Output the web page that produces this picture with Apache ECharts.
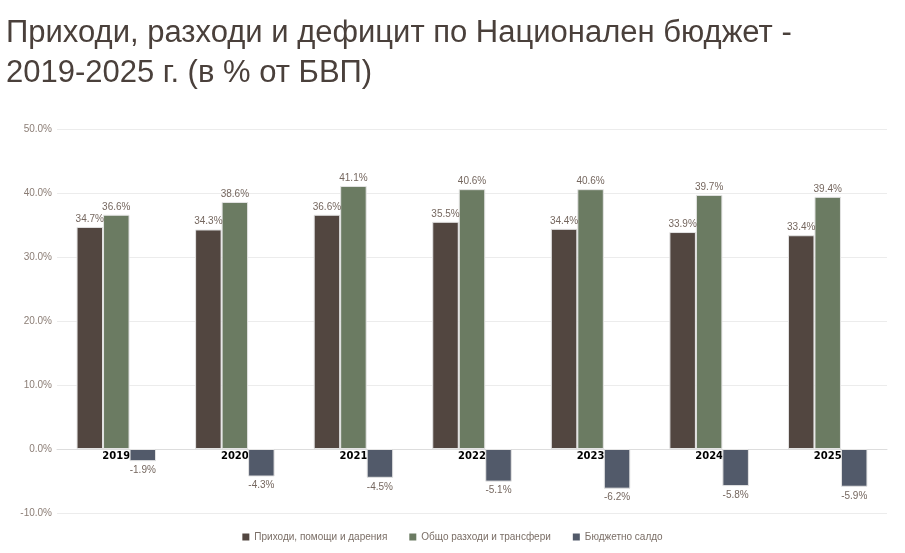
<!DOCTYPE html>
<html>
<head>
<meta charset="utf-8">
<title>Приходи, разходи и дефицит</title>
<script src="https://cdn.jsdelivr.net/npm/echarts@6/dist/echarts.min.js"></script>
<style>
    html, body { margin: 0; padding: 0; background: #fff; }
    #chart { width: 905px; height: 553px; }
</style>
</head>
<body>
<div id="chart"></div>
<script>
// данни (в % от БВП)
var years = ['2019', '2020', '2021', '2022', '2023', '2024', '2025'];
var revenues = [34.7, 34.3, 36.6, 35.5, 34.4, 33.9, 33.4];
var expenses = [36.6, 38.6, 41.1, 40.6, 40.6, 39.7, 39.4];
var balance = [-1.9, -4.3, -4.5, -5.1, -6.2, -5.8, -5.9];
var seriesNames = ['Приходи, помощи и дарения', 'Общо разходи и трансфери', 'Бюджетно салдо'];

window.onload = function(){
    var myChart = echarts.init(document.getElementById('chart'));

    var labelStyle = {
        show: true,
        color: '#75675f',
        fontSize: 10,
        fontFamily: 'Liberation Sans, Arial, sans-serif',
        formatter: function(p){ return p.value.toFixed(1) + '%'; }
    };

    var option = {
        animation: false,
        title: {
            text: 'Приходи, разходи и дефицит по Национален бюджет -\n2019-2025 г. (в % от БВП)',
            left: 1,
            top: 8,
            textStyle: {
                fontFamily: 'Liberation Sans, Arial, sans-serif',
                fontSize: 31,
                fontWeight: 'normal',
                color: '#4a403b',
                lineHeight: 40
            }
        },
        legend: {
            data: seriesNames,
            bottom: 6,
            left: 'center',
            icon: 'rect',
            itemWidth: 7,
            itemHeight: 7,
            itemGap: 22,
            itemStyle: { borderWidth: 0 },
            textStyle: {
                color: '#7a6e66',
                fontSize: 10,
                fontFamily: 'Liberation Sans, Arial, sans-serif'
            }
        },
        grid: { left: 57, right: 18, top: 129, bottom: 40 },
        xAxis: {
            type: 'category',
            data: years,
            axisLine: { onZero: true, lineStyle: { color: '#dddddd' } },
            axisTick: { show: false },
            axisLabel: {
                color: '#000',
                fontWeight: 'bold',
                fontSize: 10,
                // етикетите стоят точно под нулевата линия
                margin: -62,
                fontFamily: 'DejaVu Sans, sans-serif'
            }
        },
        yAxis: {
            type: 'value',
            min: -10,
            max: 50,
            interval: 10,
            axisLine: { show: false },
            axisTick: { show: false },
            axisLabel: {
                color: '#8b7d75',
                fontSize: 10,
                margin: 5,
                fontFamily: 'Liberation Sans, Arial, sans-serif',
                formatter: function(v){ return v.toFixed(1) + '%'; }
            },
            splitLine: { lineStyle: { color: '#ececec' } }
        },
        color: ['#524640', '#6b7b62', '#525a6a'],
        series: [
            {
                name: seriesNames[0],
                type: 'bar',
                data: revenues,
                barWidth: 26.5,
                barGap: '0%',
                itemStyle: { borderColor: '#e4e4e4', borderWidth: 1 },
                label: Object.assign({ position: 'top', distance: 3 }, labelStyle)
            },
            {
                name: seriesNames[1],
                type: 'bar',
                data: expenses,
                barWidth: 26.5,
                barGap: '0%',
                itemStyle: { borderColor: '#e4e4e4', borderWidth: 1 },
                label: Object.assign({ position: 'top', distance: 3 }, labelStyle)
            },
            {
                name: seriesNames[2],
                type: 'bar',
                data: balance,
                barWidth: 26.5,
                barGap: '0%',
                itemStyle: { borderColor: '#e4e4e4', borderWidth: 1 },
                label: Object.assign({ position: 'bottom', distance: 4 }, labelStyle)
            }
        ]
    };

    myChart.setOption(option);
};
</script>
</body>
</html>
